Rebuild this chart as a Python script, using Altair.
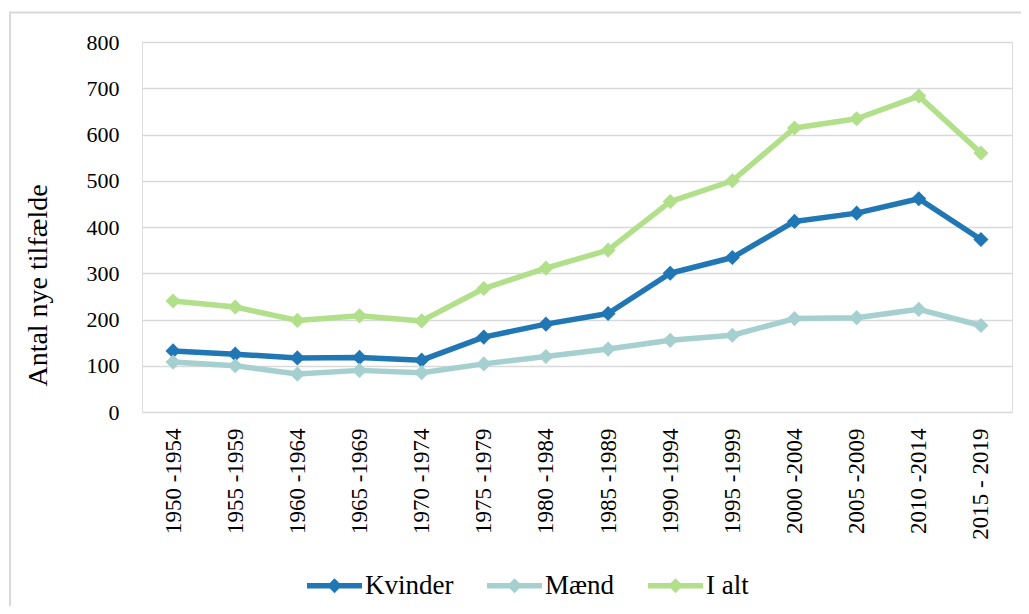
import altair as alt
import pandas as pd

periods = ["1950 -1954", "1955 -1959", "1960 -1964", "1965 -1969", "1970 -1974",
           "1975 -1979", "1980 -1984", "1985 -1989", "1990 -1994", "1995 -1999",
           "2000 -2004", "2005 -2009", "2010 -2014", "2015 - 2019"]
kvinder = [132, 125, 117, 118, 112, 162, 190, 213, 300, 334, 412, 430, 461, 373]
maend = [108, 100, 82, 90, 85, 104, 120, 136, 155, 166, 202, 204, 222, 187]
i_alt = [240, 227, 198, 208, 197, 267, 311, 350, 455, 500, 614, 634, 683, 560]

series_names = ["Kvinder", "Mænd", "I alt"]
series_colors = ["#2077b4", "#a6cfd0", "#b2df8a"]

rows = []
for name, vals in zip(series_names, [kvinder, maend, i_alt]):
    for p, v in zip(periods, vals):
        rows.append({"Periode": p, "Serie": name, "Antal": v})
df = pd.DataFrame(rows)

FONT = "Liberation Serif"

x = alt.X("Periode:N", sort=periods, title=None,
          scale=alt.Scale(paddingInner=0, paddingOuter=0.5),
          axis=alt.Axis(labelAngle=-90, labelFontSize=23, labelFont=FONT, labelColor="#000000",
                        labelPadding=16, ticks=False, domain=False, grid=False))
y = alt.Y("Antal:Q", scale=alt.Scale(domain=[0, 800], nice=False),
          title="Antal nye tilfælde",
          axis=alt.Axis(values=list(range(0, 801, 100)), labelFontSize=22, labelFont=FONT,
                        labelColor="#000000", labelPadding=23, ticks=False, domain=False,
                        gridColor="#d9d9d9", gridWidth=1.5, titleFontSize=28,
                        titleFont=FONT, titleFontWeight="normal", titleColor="#000000",
                        titleX=-104, titleY=243, titleBaseline="middle", titleAngle=-90))
color_scale = alt.Scale(domain=series_names, range=series_colors)

legend_path = ("M-1,-0.1 L-0.17,-0.1 L0,-0.27 L0.17,-0.1 L1,-0.1 L1,0.1 "
               "L0.17,0.1 L0,0.27 L-0.17,0.1 L-1,0.1 Z")

lines = alt.Chart(df).mark_line(strokeWidth=5.5, strokeJoin="round").encode(
    x=x, y=y,
    stroke=alt.Stroke("Serie:N", scale=color_scale, sort=series_names, legend=None),
    detail="Serie:N",
)
points = alt.Chart(df).mark_point(shape="diamond", filled=True, size=230, opacity=1).encode(
    x=x, y=y,
    fill=alt.Fill("Serie:N", scale=color_scale, sort=series_names,
                  legend=alt.Legend(title=None, orient="none", direction="horizontal",
                                    legendX=165, legendY=516, symbolType=legend_path,
                                    symbolSize=3025, symbolStrokeWidth=0,
                                    labelFontSize=27, labelFont=FONT, labelColor="#000000",
                                    labelOffset=3, columnPadding=33, padding=0)),
)

frame = alt.Chart(pd.DataFrame({"k": [0]})).mark_rect(
    fill=None, stroke="#d9d9d9", strokeWidth=2).encode(
    x=alt.value(-132), x2=alt.value(900), y=alt.value(-29.5), y2=alt.value(600))

chart = alt.layer(frame, lines, points).resolve_scale(fill="independent", stroke="independent").properties(
    width=870, height=370,
    autosize=alt.AutoSizeParams(type="none"),
    padding={"left": 134, "top": 34, "right": 9, "bottom": 194},
).configure_view(stroke=None).configure(
    background="white", font=FONT
).configure_legend(labelFont=FONT, labelFontSize=27).configure_axis(labelFont=FONT, titleFont=FONT)

chart.save("out.html", embed_options={"renderer": "svg", "actions": False})
